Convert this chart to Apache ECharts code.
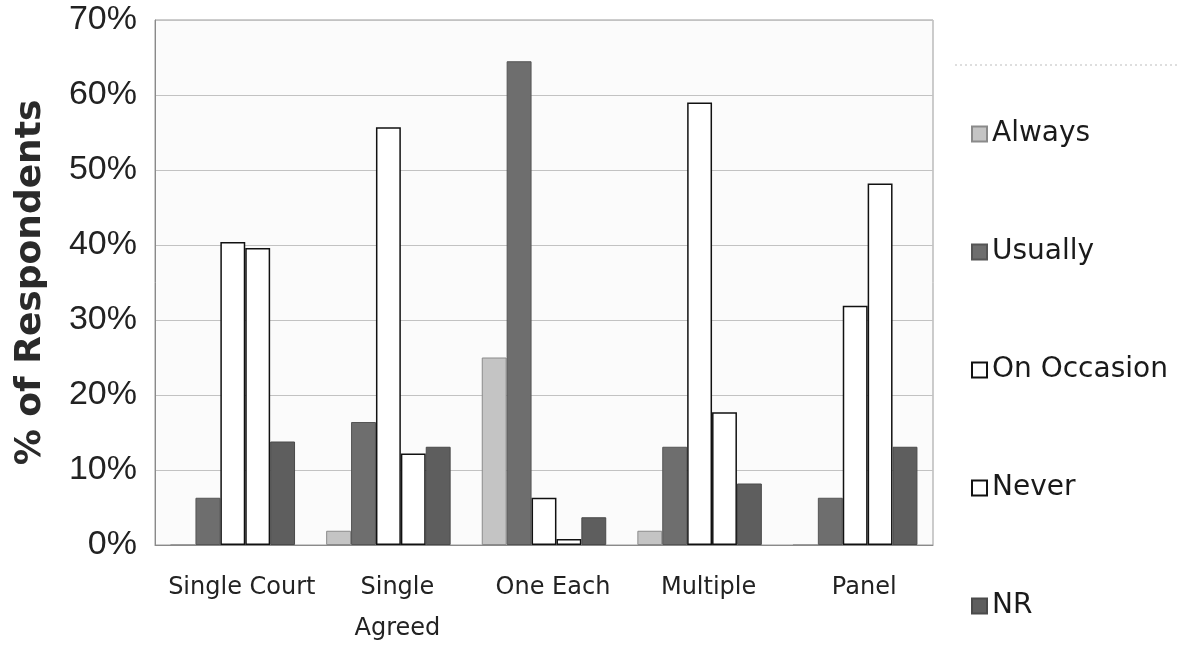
<!DOCTYPE html>
<html>
<head>
<meta charset="utf-8">
<script src="https://cdn.jsdelivr.net/npm/echarts@6/dist/echarts.min.js"></script>
<style>
  html, body { margin: 0; padding: 0; background: #ffffff; }
  #chart { width: 1184px; height: 645px; }
</style>
</head>
<body>
<div id="chart"></div>
<script>
// Response categories by arrangement type (percent of respondents)
const categories = ['Single Court', 'Single\nAgreed', 'One Each', 'Multiple', 'Panel'];
const yTicks = [0, 10, 20, 30, 40, 50, 60, 70];

const always     = [0,    1.9, 25.0, 1.9,  0];
const usually    = [6.3, 16.4, 64.5, 13.1, 6.3];
const onOccasion = [40.4, 55.7, 6.3, 59.0, 31.9];
const never      = [39.6, 12.2, 0.8, 17.7, 48.2];
const nr         = [13.8, 13.1, 3.7, 8.2, 13.1];

const seriesNames = ['Always', 'Usually', 'On Occasion', 'Never', 'NR'];
const seriesData = [always, usually, onOccasion, never, nr];
const seriesStyles = [
  { color: '#c4c4c4', borderColor: '#8a8a8a', borderWidth: 1 },
  { color: '#6e6e6e', borderColor: '#555555', borderWidth: 1 },
  { color: '#ffffff', borderColor: '#111111', borderWidth: 1.5 },
  { color: '#ffffff', borderColor: '#111111', borderWidth: 1.5 },
  { color: '#5e5e5e', borderColor: '#4a4a4a', borderWidth: 1 }
];

const chart = echarts.init(document.getElementById('chart'));

chart.setOption({
  backgroundColor: '#ffffff',
  animation: false,
  textStyle: { fontFamily: 'Liberation Sans, Arial, sans-serif' },
  grid: {
    left: 155, right: 251, top: 20, bottom: 100,
    outerBoundsMode: 'none',
    containLabel: false,
    show: true, backgroundColor: '#fbfbfb', borderColor: '#9a9a9a', borderWidth: 1
  },
  legend: {
    orient: 'vertical',
    left: 966,
    top: 115,
    itemWidth: 15,
    itemHeight: 15,
    itemGap: 90,
    icon: 'rect',
    textStyle: { fontSize: 28, color: '#1a1a1a', lineHeight: 28, fontFamily: 'DejaVu Sans' },
    data: seriesNames
  },
  xAxis: {
    type: 'category',
    data: categories,
    axisLine: { lineStyle: { color: '#8a8a8a' } },
    axisTick: { show: false },
    axisLabel: {
      interval: 0, fontSize: 24, color: '#222222', margin: 22, lineHeight: 41,
      fontFamily: 'DejaVu Sans', padding: [0, 0, 0, 18]
    }
  },
  yAxis: {
    type: 'value',
    min: yTicks[0],
    max: yTicks[yTicks.length - 1],
    interval: 10,
    name: '% of Respondents',
    nameLocation: 'middle',
    nameGap: 106,
    nameTextStyle: { fontSize: 36, fontWeight: 'bold', color: '#2a2a2a', fontFamily: 'DejaVu Sans' },
    axisLine: { show: true, lineStyle: { color: '#8a8a8a' } },
    axisTick: { show: false },
    axisLabel: { fontSize: 34, color: '#222222', margin: 18, formatter: '{value}%' },
    splitLine: { lineStyle: { color: '#c2c2c2', width: 1 } }
  },
  graphic: [{
    type: 'line',
    shape: { x1: 955, y1: 65, x2: 1180, y2: 65 },
    style: { stroke: '#bdbdbd', lineWidth: 1, lineDash: [2, 3] }
  }],
  series: seriesNames.map((name, i) => ({
    name: name,
    type: 'bar',
    data: seriesData[i],
    barGap: '0%',
    barCategoryGap: '20%',
    itemStyle: seriesStyles[i]
  }))
});
</script>
</body>
</html>
